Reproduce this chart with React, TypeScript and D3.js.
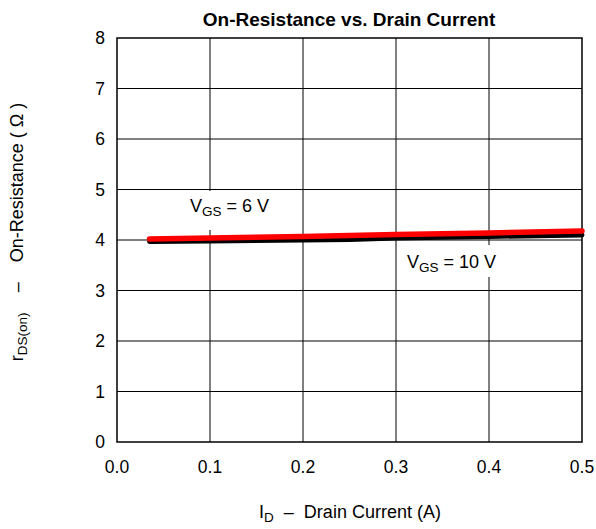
import React from "react";
import * as d3 from "d3";

const xTicks = [0.0, 0.1, 0.2, 0.3, 0.4, 0.5];
const yTicks = [0, 1, 2, 3, 4, 5, 6, 7, 8];
const current = [0.035, 0.1, 0.2, 0.25, 0.3, 0.4, 0.5];
const rds6V = [4.02, 4.04, 4.07, 4.09, 4.11, 4.14, 4.18];
const rds10V = [3.97, 3.98, 4.0, 4.01, 4.04, 4.07, 4.1];

export default function App() {
  const W = 596, H = 529;
  const L = 117, R = 582, T = 38, B = 442;
  const x = d3.scaleLinear().domain([0, 0.5]).range([L, R]);
  const y = d3.scaleLinear().domain([0, 8]).range([B, T]);
  const line = d3.line<number>().x((_, i) => x(current[i])).y((d) => y(d));
  const font = "'Liberation Sans', Arial, sans-serif";
  const pre = { whiteSpace: "pre" as const };
  return (
    <svg width={W} height={H} style={{ position: "absolute", left: 0, top: 0, background: "#fff" }} fontFamily={font}>
      <rect width={W} height={H} fill="#fff" />
      {xTicks.slice(1, -1).map((t) => (
        <line key={"gx" + t} x1={x(t)} x2={x(t)} y1={T} y2={B} stroke="#000" strokeWidth={1} />
      ))}
      {yTicks.slice(1, -1).map((t) => (
        <line key={"gy" + t} x1={L} x2={R} y1={y(t)} y2={y(t)} stroke="#000" strokeWidth={1} />
      ))}
      {/* label backgrounds */}
      <rect x={186} y={191} width={94} height={39} fill="#fff" />
      <rect x={403} y={245} width={100} height={32} fill="#fff" />
      <rect x={L} y={T} width={R - L} height={B - T} fill="none" stroke="#000" strokeWidth={1.5} />
      <path d={line(rds10V) || ""} fill="none" stroke="#000" strokeWidth={5} strokeLinecap="round" />
      <path d={line(rds6V) || ""} fill="none" stroke="#ff0000" strokeWidth={5.5} strokeLinecap="round" />
      <text x={190} y={212} fontSize={18} fill="#000" style={pre}>
        V<tspan fontSize={13.5} dy={4}>GS</tspan><tspan dy={-4}> = 6 V</tspan>
      </text>
      <text x={407} y={268} fontSize={18} fill="#000" style={pre}>
        V<tspan fontSize={13.5} dy={4}>GS</tspan><tspan dy={-4}> = 10 V</tspan>
      </text>
      {yTicks.map((t) => (
        <text key={"yt" + t} x={105} y={y(t) + 6} fontSize={17.5} textAnchor="end" fill="#000">{t}</text>
      ))}
      {xTicks.map((t) => (
        <text key={"xt" + t} x={x(t)} y={473} fontSize={17.5} textAnchor="middle" fill="#000">{t.toFixed(1)}</text>
      ))}
      <text x={349} y={26} fontSize={19} fontWeight="bold" textAnchor="middle" fill="#000">On-Resistance vs. Drain Current</text>
      <text x={350} y={518} fontSize={18} textAnchor="middle" fill="#000" style={pre}>
        I<tspan fontSize={13.5} dy={4}>D</tspan><tspan dy={-4}>{"  –  Drain Current (A)"}</tspan>
      </text>
      <text transform="translate(23,232) rotate(-90)" fontSize={18} textAnchor="middle" fill="#000" style={pre}>
        r<tspan fontSize={13.5} dy={4}>DS(on)</tspan><tspan dy={-4}>{"    –    On-Resistance ( Ω )"}</tspan>
      </text>
    </svg>
  );
}
